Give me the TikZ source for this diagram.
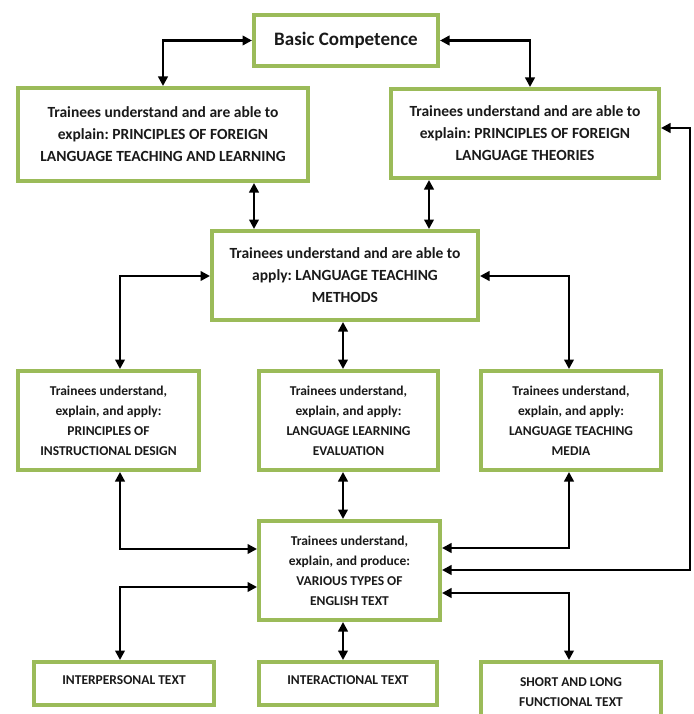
\documentclass[tikz,border=0pt]{standalone}
\usepackage{fontspec}
\setmainfont{Carlito}
\frenchspacing
\usetikzlibrary{arrows.meta}
\definecolor{boxgreen}{HTML}{9BBB59}
\definecolor{txt}{HTML}{1A1A1A}
\begin{document}
\begin{tikzpicture}[x=1pt,y=-1pt,
  box/.style={draw=boxgreen, line width=4pt, fill=white, rectangle, inner sep=0pt, align=center, text=txt},
  big/.style={box, font=\fontsize{15.5}{22}\selectfont\bfseries},
  small/.style={box, font=\fontsize{13.5}{20}\selectfont\bfseries},
  dbl/.style={line width=2.8pt, {Triangle[length=9.5pt,width=9.5pt]}-{Triangle[length=9.5pt,width=9.5pt]}}
]
\useasboundingbox (0,0) rectangle (693,714);
% nodes
\node[box, font=\fontsize{19}{22}\selectfont\bfseries, minimum width=184pt, minimum height=51pt] (basic) at (346,40.5) {Basic Competence};
\node[big, minimum width=290pt, minimum height=93pt] (pfltl) at (163,134.5) {Trainees understand and are able to\\explain: PRINCIPLES OF FOREIGN\\LANGUAGE TEACHING AND LEARNING};
\node[big, minimum width=268pt, minimum height=89pt] (pflt) at (525,133.5) {Trainees understand and are able to\\explain: PRINCIPLES OF FOREIGN\\LANGUAGE THEORIES};
\node[big, minimum width=266pt, minimum height=89pt] (ltm) at (345,275.5) {Trainees understand and are able to\\apply: LANGUAGE TEACHING\\METHODS};
\node[small, minimum width=181pt, minimum height=99pt] (pid) at (108.5,420.5) {Trainees understand,\\explain, and apply:\\PRINCIPLES OF\\INSTRUCTIONAL DESIGN};
\node[small, minimum width=179pt, minimum height=99pt] (lle) at (348.5,420.5) {Trainees understand,\\explain, and apply:\\LANGUAGE LEARNING\\EVALUATION};
\node[small, minimum width=180pt, minimum height=99pt] (ltmedia) at (571,420.5) {Trainees understand,\\explain, and apply:\\LANGUAGE TEACHING\\MEDIA};
\node[small, minimum width=181pt, minimum height=99pt] (various) at (349.5,570.5) {Trainees understand,\\explain, and produce:\\VARIOUS TYPES OF\\ENGLISH TEXT};
\node[small, minimum width=180pt, minimum height=43pt, text depth=6pt] (interp) at (124,683.5) {INTERPERSONAL TEXT};
\node[small, minimum width=178pt, minimum height=43pt, text depth=6pt] (interact) at (348,683.5) {INTERACTIONAL TEXT};
\node[small, minimum width=180pt, minimum height=60pt] (short) at (571,692) {SHORT AND LONG\\FUNCTIONAL TEXT};
% routing coordinates
\coordinate (xa) at (163,0);
\coordinate (xb) at (530,0);
\coordinate (xc) at (254,0);
\coordinate (xd) at (429,0);
\coordinate (xl) at (120,0);
\coordinate (xm) at (343,0);
\coordinate (xr) at (569,0);
\coordinate (xe) at (690,0);
\coordinate (ya) at (0,549);
\coordinate (yb) at (0,548);
\coordinate (yc) at (0,570);
\coordinate (yd) at (0,587);
\coordinate (ye) at (0,593);
\coordinate (yf) at (0,128);
\coordinate (yg) at (0,276);
% connectors
\draw[dbl] (basic.west) -| (pfltl.north -| xa);
\draw[dbl] (basic.east) -| (pflt.north -| xb);
\draw[dbl] (pfltl.south -| xc) -- (ltm.north -| xc);
\draw[dbl] (pflt.south -| xd) -- (ltm.north -| xd);
\draw[dbl] (ltm.west |- yg) -| (pid.north -| xl);
\draw[dbl] (ltm.east |- yg) -| (ltmedia.north -| xr);
\draw[dbl] (ltm.south -| xm) -- (lle.north -| xm);
\draw[dbl] (pid.south -| xl) |- (various.west |- ya);
\draw[dbl] (lle.south -| xm) -- (various.north -| xm);
\draw[dbl] (ltmedia.south -| xr) |- (various.east |- yb);
\draw[dbl] (pflt.east |- yf) -- (xe |- yf) -- (xe |- yc) -- (various.east |- yc);
\draw[dbl] (various.west |- yd) -| (interp.north -| xl);
\draw[dbl] (various.east |- ye) -| (short.north -| xr);
\draw[dbl] (various.south -| xm) -- (interact.north -| xm);
\end{tikzpicture}
\end{document}
